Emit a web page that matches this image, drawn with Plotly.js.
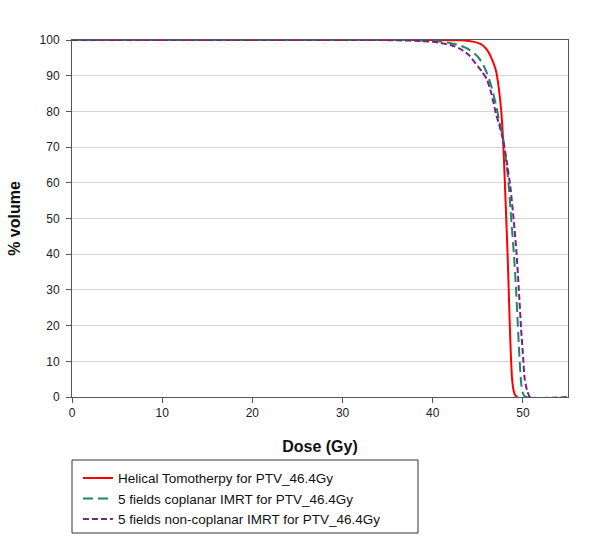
<!DOCTYPE html>
<html>
<head>
<meta charset="utf-8">
<script src="https://cdn.plot.ly/plotly-3.0.1.min.js"></script>
<style>
  html, body { margin: 0; padding: 0; background: #ffffff; }
  #chart { width: 600px; height: 538px; }
</style>
</head>
<body>
<div id="chart"></div>
<script>
// DVH curves for PTV_46.4Gy
const tomoDose = [0, 40, 43, 44, 45, 45.5, 46, 46.5, 47, 47.3, 47.6, 47.8, 48.0, 48.15, 48.3, 48.45, 48.6, 48.8, 49.0, 49.2, 49.4];
const tomoVol = [100, 100, 99.9, 99.7, 99.2, 98.6, 97.3, 95, 91.5, 87, 80, 72, 60, 50, 40, 28, 16, 5, 1.5, 0.3, 0];

const copDose = [0, 36, 38, 40, 41, 42, 43, 44, 45, 45.5, 46, 46.5, 47, 47.4, 47.8, 48.1, 48.4, 48.7, 49.0, 49.2, 49.4, 49.6, 49.8, 50.0, 50.3, 51];
const copVol = [100, 100, 99.9, 99.7, 99.5, 99.1, 98.5, 97.4, 95.3, 93.5, 90.8, 87, 82, 77, 72.5, 67, 60, 50, 40, 32, 22, 12, 4, 1, 0, 0];

const noncopDose = [0, 34, 36, 38, 40, 41, 42, 43, 44, 45, 45.5, 46, 46.5, 47, 47.4, 47.8, 48.2, 48.6, 49.0, 49.3, 49.55, 49.8, 50.0, 50.2, 50.5, 50.8, 55];
const noncopVol = [100, 100, 99.9, 99.8, 99.5, 99.1, 98.6, 97.6, 95.8, 92.6, 91, 89, 85, 79.5, 76, 72, 66, 59, 49, 40, 30, 19, 12, 5, 1.5, 0, 0];

const seriesNames = [
  "Helical Tomotherpy for PTV_46.4Gy",
  "5 fields coplanar IMRT for PTV_46.4Gy",
  "5 fields non-coplanar IMRT for PTV_46.4Gy"
];

const FONT = "Liberation Sans, Arial, sans-serif";

const traces = [
  {
    type: "scatter",
    mode: "lines",
    x: tomoDose,
    y: tomoVol,
    name: seriesNames[0],
    line: { color: "#ff0000", width: 2, shape: "spline", smoothing: 0.6 }
  },
  {
    type: "scatter",
    mode: "lines",
    x: copDose,
    y: copVol,
    name: seriesNames[1],
    line: { color: "#1b8a62", width: 2, dash: "10px,5px", shape: "spline", smoothing: 0.6 }
  },
  {
    type: "scatter",
    mode: "lines",
    x: noncopDose,
    y: noncopVol,
    name: seriesNames[2],
    line: { color: "#7d1e8e", width: 2, dash: "6px,3px", shape: "spline", smoothing: 0.6 }
  }
];

const layout = {
  width: 600,
  height: 538,
  margin: { l: 72, r: 32, t: 40, b: 141, autoexpand: false },
  paper_bgcolor: "#ffffff",
  plot_bgcolor: "#ffffff",
  font: { family: FONT, size: 12, color: "#222222" },
  showlegend: true,
  legend: {
    x: 0.012,
    xanchor: "left",
    y: -0.184,
    yanchor: "top",
    borderwidth: 0,
    bgcolor: "rgba(0,0,0,0)",
    font: { family: FONT, size: 13.5, color: "#111111" },
    tracegroupgap: 0
  },
  // legend frame, as in the original
  shapes: [
    {
      type: "rect",
      xref: "paper",
      yref: "paper",
      x0: 0,
      x1: 0.6976,
      y0: -0.1765,
      y1: -0.381,
      line: { color: "#333333", width: 1 },
      fillcolor: "rgba(0,0,0,0)"
    }
  ],
  xaxis: {
    range: [0, 55],
    dtick: 10,
    tick0: 0,
    showgrid: false,
    zeroline: false,
    showline: true,
    linecolor: "#555555",
    linewidth: 1,
    mirror: true,
    ticks: "outside",
    ticklen: 5,
    tickcolor: "#555555",
    tickfont: { family: FONT, size: 12, color: "#222222" },
    title: {
      text: "<b>Dose (Gy)</b>",
      font: { family: FONT, size: 16, color: "#111111" },
      standoff: 21
    },
    fixedrange: true
  },
  yaxis: {
    range: [0, 100],
    dtick: 10,
    tick0: 0,
    showgrid: true,
    gridcolor: "#d4d4d4",
    gridwidth: 1,
    zeroline: false,
    showline: true,
    linecolor: "#555555",
    linewidth: 1,
    mirror: true,
    ticks: "outside",
    ticklen: 5,
    ticklabelstandoff: 4,
    tickcolor: "#555555",
    tickfont: { family: FONT, size: 12, color: "#222222" },
    title: {
      text: "<b>% volume</b>",
      font: { family: FONT, size: 16, color: "#111111" },
      standoff: 14
    },
    fixedrange: true
  }
};

Plotly.newPlot("chart", traces, layout, { displayModeBar: false, staticPlot: true });
</script>
</body>
</html>
